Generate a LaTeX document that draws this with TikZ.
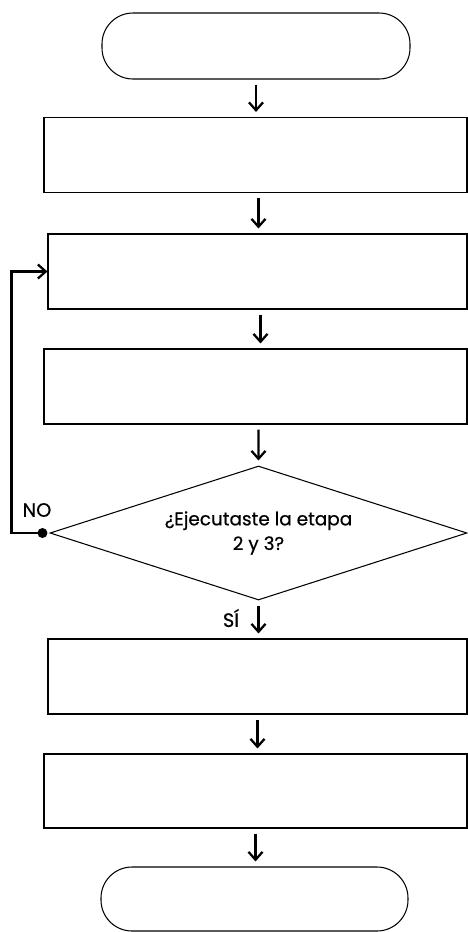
\documentclass[tikz,border=0pt]{standalone}
\usepackage{fontspec}
\setmainfont{Poppins}[FakeBold=0.6]
\usetikzlibrary{shapes.geometric, arrows.meta}

\begin{document}
\begin{tikzpicture}[
  term/.style={rectangle, draw, rounded corners=0.62cm, line width=0.6pt,
               minimum width=6.16cm, minimum height=1.32cm},
  box/.style={rectangle, draw, line width=0.6pt, minimum width=8.46cm,
              minimum height=1.5cm},
  decision/.style={diamond, draw, line width=0.6pt, aspect=3.1, inner sep=0pt,
                   minimum width=8.34cm, minimum height=2.68cm, align=center,
                   font=\fontsize{10.5}{14}\selectfont},
  arrow/.style={-{Straight Barb[length=4.5pt, width=8pt]}, line width=1.3pt,
                shorten <=0.1cm, shorten >=0.1cm},
  loopline/.style={-{Straight Barb[length=4.5pt, width=8pt]}, line width=1.3pt},
  lbl/.style={font=\fontsize{11}{13}\selectfont}
]
\useasboundingbox (0,0) rectangle (9.36,-18.64);

%% ---- Main column ----
\node[term] at (5.12,-0.92)  (start) {};
\node[box]  at (5.11,-3.10)  (step1) {};
\node[box, minimum width=8.38cm] at (5.15,-5.43) (step2) {};
\node[box]  at (5.11,-7.73)  (step3) {};
\node[decision] at (5.17,-10.66) (check) {¿Ejecutaste la etapa\\2 y 3?};
\node[box, minimum width=8.38cm] at (5.15,-13.53) (step4) {};
\node[box, minimum height=1.48cm] at (5.11,-15.82) (step5) {};
\node[term, minimum width=6.14cm, minimum height=1.28cm] at (5.09,-17.98) (stop) {};

%% ---- Arrows ----
\draw[arrow] (start.south) -- (start.south |- step1.north);
\draw[arrow] ([xshift=0.06cm]step1.south) -- ([xshift=0.06cm]step1.south |- step2.north);
\draw[arrow] ([xshift=0.06cm]step2.south) -- ([xshift=0.06cm]step2.south |- step3.north);
\draw[arrow] ([xshift=0.06cm]step3.south) -- (check.north);
\draw[arrow] (check.south) -- (check.south |- step4.north);
\draw[arrow] (step4.south) -- (step4.south |- step5.north);
\draw[arrow] (step5.south) -- (step5.south |- stop.north);

%% ---- Loop back ----
\coordinate (dot) at ([xshift=-0.14cm]check.west);
\draw[loopline] (dot) -- ++(-0.62cm,0) |- (step2.west);
\fill (dot) circle (0.1cm);

%% ---- Labels ----
\node[lbl] at (0.74,-10.2) (no) {NO};
\node[lbl] at (4.62,-12.36) (si) {SÍ};
\end{tikzpicture}
\end{document}
